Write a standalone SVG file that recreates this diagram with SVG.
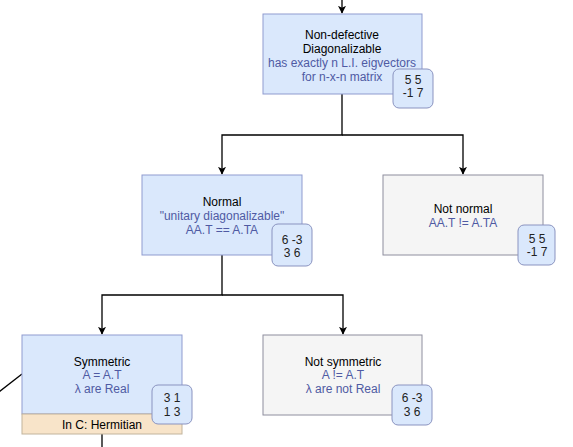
<svg xmlns="http://www.w3.org/2000/svg" width="573" height="447" viewBox="0 0 573 447">
<defs>
<style>
.blue{fill:#dae8fc;stroke:#8f9bcf;stroke-width:1}
.gray{fill:#f5f5f5;stroke:#8e8e9e;stroke-width:1}
.orange{fill:#f8e4c9;stroke:#c2b49c;stroke-width:1}
.badge{fill:#dae8fc;stroke:#8a93c0;stroke-width:1}
text{font-family:"Liberation Sans",Arial,sans-serif;font-size:12px;text-anchor:middle}
.t{fill:#000}
.s{fill:#4f5aa3}
.b{fill:#222}
.edge{fill:none;stroke:#000;stroke-width:1.3}
</style>
<marker id="arr" viewBox="0 0 10 10" refX="9" refY="5" markerWidth="8" markerHeight="8" markerUnits="userSpaceOnUse" orient="auto">
<path d="M0,0 L10,5 L0,10 L2.5,5 Z" fill="#000"/>
</marker>
</defs>
<rect width="573" height="447" fill="#fff"/>
<g id="connectors">
<path class="edge" d="M342,0 V13" marker-end="url(#arr)"/>
<path class="edge" d="M342,94 V135 H222 V174" marker-end="url(#arr)"/>
<path class="edge" d="M342,135 H463 V174" marker-end="url(#arr)"/>
<path class="edge" d="M222,255 V295 H102 V334" marker-end="url(#arr)"/>
<path class="edge" d="M222,295 H343 V334" marker-end="url(#arr)"/>
<path class="edge" d="M102,434 V447"/>
<path class="edge" d="M-5,395 L22,374"/>
</g>
<g id="nondefective">
<rect class="blue" x="263" y="14" width="159" height="80"/>
<text class="t" x="342" y="39">Non-defective</text>
<text class="t" x="342" y="53">Diagonalizable</text>
<text class="s" x="342" y="67">has exactly n L.I. eigvectors</text>
<text class="s" x="342" y="81">for n-x-n matrix</text>
</g>
<g id="badge-top">
<rect class="badge" x="393" y="69" width="40" height="39" rx="6"/>
<text class="b" x="413" y="84">5 5</text>
<text class="b" x="413" y="97">-1 7</text>
</g>
<g id="normal">
<rect class="blue" x="142" y="175" width="160" height="80"/>
<text class="t" x="222" y="206">Normal</text>
<text class="s" x="222" y="220">"unitary diagonalizable"</text>
<text class="s" x="222" y="234">AA.T == A.TA</text>
</g>
<g id="badge-normal">
<rect class="badge" x="272" y="224" width="40" height="42" rx="6"/>
<text class="b" x="292" y="244">6 -3</text>
<text class="b" x="292" y="257">3 6</text>
</g>
<g id="notnormal">
<rect class="gray" x="383" y="175" width="160" height="80"/>
<text class="t" x="463" y="213">Not normal</text>
<text class="s" x="463" y="227">AA.T != A.TA</text>
</g>
<g id="badge-notnormal">
<rect class="badge" x="518" y="225" width="37" height="40" rx="6"/>
<text class="b" x="537" y="243">5 5</text>
<text class="b" x="537" y="256">-1 7</text>
</g>
<g id="symmetric">
<rect class="blue" x="22" y="335" width="160" height="79"/>
<rect class="orange" x="22" y="414" width="160" height="20"/>
<text class="t" x="102" y="366">Symmetric</text>
<text class="s" x="102" y="379">A = A.T</text>
<text class="s" x="102" y="393">λ are Real</text>
<text class="t" x="102" y="429">In C: Hermitian</text>
</g>
<g id="badge-symmetric">
<rect class="badge" x="152" y="385" width="40" height="39" rx="6"/>
<text class="b" x="172" y="402">3 1</text>
<text class="b" x="172" y="416">1 3</text>
</g>
<g id="notsymmetric">
<rect class="gray" x="263" y="335" width="159" height="80"/>
<text class="t" x="343" y="366">Not symmetric</text>
<text class="s" x="343" y="379">A != A.T</text>
<text class="s" x="343" y="393">λ are not Real</text>
</g>
<g id="badge-notsymmetric">
<rect class="badge" x="392" y="385" width="40" height="40" rx="6"/>
<text class="b" x="412" y="402">6 -3</text>
<text class="b" x="412" y="416">3 6</text>
</g>
</svg>
